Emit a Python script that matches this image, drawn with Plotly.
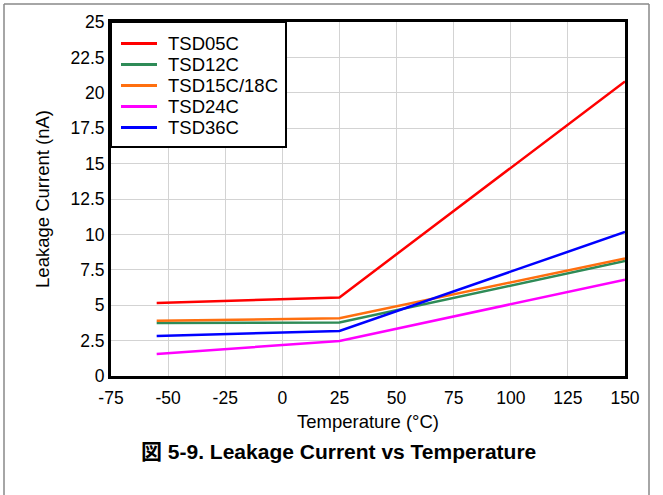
import plotly.graph_objects as go

temps = [-55, 25, 150]
tsd05c = [5.15, 5.55, 20.8]
tsd12c = [3.75, 3.78, 8.12]
tsd15c18c = [3.9, 4.08, 8.3]
tsd24c = [1.55, 2.47, 6.8]
tsd36c = [2.82, 3.18, 10.17]

x_ticks = [-75, -50, -25, 0, 25, 50, 75, 100, 125, 150]
x_tick_labels = ["-75", "-50", "-25", "0", "25", "50", "75", "100", "125", "150"]
y_ticks = [0, 2.5, 5, 7.5, 10, 12.5, 15, 17.5, 20, 22.5, 25]
y_tick_labels = ["0", "2.5", "5", "7.5", "10", "12.5", "15", "17.5", "20", "22.5", "25"]

names = ["TSD05C", "TSD12C", "TSD15C/18C", "TSD24C", "TSD36C"]
values = [tsd05c, tsd12c, tsd15c18c, tsd24c, tsd36c]
colors = ["#ff0000", "#2e8b57", "#ff6f0f", "#ff00ff", "#0000ff"]

FONT = "Liberation Sans, Arial, Noto Sans CJK JP, sans-serif"

fig = go.Figure()
for name, vals, col in zip(names, values, colors):
    fig.add_trace(go.Scatter(x=temps, y=vals, mode="lines", name=name,
                             line=dict(color=col, width=2.5), showlegend=False))

W, H = 663, 495
L, R, T, B = 111, 38, 22, 119
pw, ph = W - L - R, H - T - B

def px(x):
    return (x - L) / pw

def py(y):
    return 1 - (y - T) / ph

shapes = [
    dict(type="line", xref="paper", yref="paper", x0=px(4), x1=px(4), y0=py(4), y1=py(500),
         line=dict(color="#888888", width=1.5)),
    dict(type="line", xref="paper", yref="paper", x0=px(649), x1=px(649), y0=py(4), y1=py(500),
         line=dict(color="#888888", width=1.5)),
    dict(type="line", xref="paper", yref="paper", x0=px(4), x1=px(649), y0=py(4), y1=py(4),
         line=dict(color="#888888", width=1.5)),
    # legend box
    dict(type="rect", xref="paper", yref="paper", x0=px(111), x1=px(286), y0=py(22), y1=py(147),
         fillcolor="white", line=dict(color="black", width=2), layer="above"),
]
annotations = [
    dict(text="<b>図 5-9. Leakage Current vs Temperature</b>", xref="paper", yref="paper",
         x=px(338), y=py(451), xanchor="center", yanchor="middle", showarrow=False,
         font=dict(size=21, family=FONT)),
]
for i, (name, col) in enumerate(zip(names, colors)):
    yc = 43.5 + 21 * i
    shapes.append(dict(type="line", xref="paper", yref="paper", x0=px(121), x1=px(157),
                       y0=py(yc), y1=py(yc), line=dict(color=col, width=3), layer="above"))
    annotations.append(dict(text=name, xref="paper", yref="paper", x=px(166), y=py(yc),
                            xanchor="left", yanchor="middle", showarrow=False,
                            font=dict(size=18.5, family=FONT)))

fig.update_layout(
    width=W, height=H,
    margin=dict(l=L, r=R, t=T, b=B),
    paper_bgcolor="white", plot_bgcolor="white",
    font=dict(family=FONT, size=17.5, color="black"),
    showlegend=False,
    xaxis=dict(range=[-75, 150], tickvals=x_ticks, ticktext=x_tick_labels, showgrid=True,
               gridcolor="#d3d3d3", gridwidth=1, zeroline=False,
               showline=True, linecolor="black", linewidth=3, mirror=True,
               ticks="", tickfont=dict(size=17.5), ticklabelstandoff=4,
               title=dict(text="Temperature (°C)", font=dict(size=18.5), standoff=9)),
    yaxis=dict(range=[0, 25], tickvals=y_ticks, ticktext=y_tick_labels, showgrid=True,
               gridcolor="#d3d3d3", gridwidth=1, zeroline=False,
               showline=True, linecolor="black", linewidth=3, mirror=True,
               ticks="", tickfont=dict(size=17.5),
               title=dict(text="Leakage Current (nA)", font=dict(size=18.5), standoff=16)),
    shapes=shapes,
    annotations=annotations,
)

fig.write_html("out.html", config={"displayModeBar": False},
               post_script="document.body.style.margin='0';")
